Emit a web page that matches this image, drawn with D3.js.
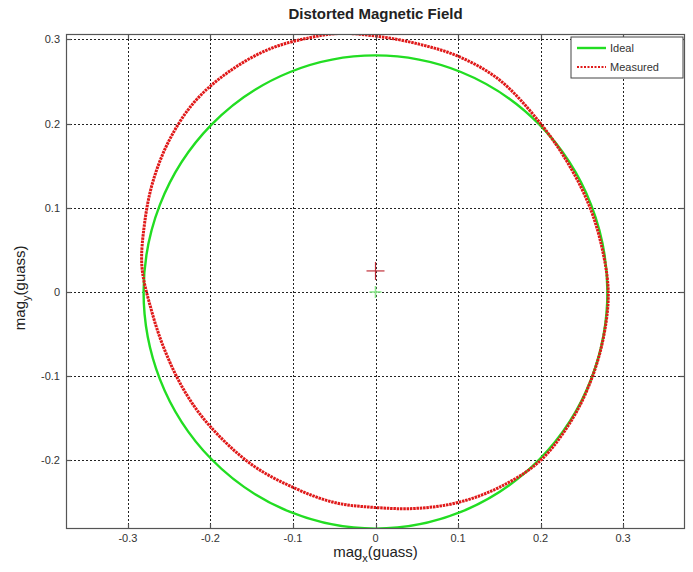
<!DOCTYPE html>
<html>
<head>
<meta charset="utf-8">
<script src="https://cdn.jsdelivr.net/npm/d3@7"></script>
<style>
  body { margin: 0; background: #fff; }
  svg { font-family: "Liberation Sans", Arial, sans-serif; }
</style>
</head>
<body>
<div id="chart"></div>
<script>
// ticks
const xTicks = [-0.3, -0.2, -0.1, 0, 0.1, 0.2, 0.3];
const yTicks = [-0.2, -0.1, 0, 0.1, 0.2, 0.3];

// ideal field: a circle around the origin
const idealCenter = [0, 0];
const idealRadius = 0.281;

// measured field (x, y in gauss)
const measuredX = [-0.043, 0.0, 0.05, 0.1, 0.15, 0.2, 0.235, 0.26, 0.275, 0.282,
  0.277, 0.263, 0.239, 0.2, 0.15, 0.1, 0.05, 0.0, -0.05, -0.1, -0.15, -0.2,
  -0.23, -0.255, -0.272, -0.283, -0.28, -0.27, -0.25, -0.22, -0.18, -0.13, -0.08];
const measuredY = [0.307, 0.304, 0.295, 0.280, 0.252, 0.200, 0.15, 0.10, 0.05, 0.0,
  -0.05, -0.10, -0.15, -0.2, -0.232, -0.25, -0.257, -0.256, -0.25, -0.232, -0.205, -0.16,
  -0.12, -0.07, -0.02, 0.03, 0.08, 0.13, 0.18, 0.225, 0.26, 0.288, 0.302];
const measuredCenter = [0, 0.025];

const width = 693, height = 572;
const margin = {top: 34, right: 8, bottom: 43, left: 66};
const green = "#22dd22", red = "#e01a1a";

const svg = d3.select("#chart").append("svg")
  .attr("width", width)
  .attr("height", height);

let x = d3.scaleLinear()
  .domain([-0.375, 0.375])
  .range([margin.left, width - margin.right]);

let y = d3.scaleLinear()
  .domain([-0.2815, 0.3064])
  .range([height - margin.bottom, margin.top]);

// clip to the axes box
svg.append("clipPath").attr("id", "plotClip")
  .append("rect")
  .attr("x", x.range()[0]).attr("y", y.range()[1])
  .attr("width", x.range()[1] - x.range()[0])
  .attr("height", y.range()[0] - y.range()[1]);

// grid
let grid = svg.append("g")
  .attr("stroke", "#222")
  .attr("stroke-width", 1)
  .attr("stroke-dasharray", "2,2");

grid.selectAll("line.vx")
  .data(xTicks)
  .enter().append("line")
    .attr("x1", d => Math.round(x(d)) + 0.5)
    .attr("x2", d => Math.round(x(d)) + 0.5)
    .attr("y1", y.range()[0])
    .attr("y2", y.range()[1]);

grid.selectAll("line.hy")
  .data(yTicks)
  .enter().append("line")
    .attr("y1", d => Math.round(y(d)) + 0.5)
    .attr("y2", d => Math.round(y(d)) + 0.5)
    .attr("x1", x.range()[0])
    .attr("x2", x.range()[1]);

let plot = svg.append("g").attr("clip-path", "url(#plotClip)");

// ideal circle
plot.append("ellipse")
  .attr("cx", x(idealCenter[0]))
  .attr("cy", y(idealCenter[1]))
  .attr("rx", x(idealRadius) - x(0))
  .attr("ry", y(0) - y(idealRadius))
  .attr("fill", "none")
  .attr("stroke", green)
  .attr("stroke-width", 2.4);

// measured curve
let measured = measuredX.map((d, i) => [d, measuredY[i]]);
let line = d3.line()
  .x(d => x(d[0]))
  .y(d => y(d[1]))
  .curve(d3.curveCatmullRomClosed);

plot.append("path")
  .datum(measured)
  .attr("d", line)
  .attr("fill", "none")
  .attr("stroke", red)
  .attr("stroke-width", 3)
  .attr("stroke-dasharray", "2.5,0.8");

// centre markers
function cross(c, size, color, w) {
  let g = svg.append("g").attr("stroke", color).attr("stroke-width", w);
  g.append("line")
    .attr("x1", x(c[0]) - size).attr("x2", x(c[0]) + size)
    .attr("y1", y(c[1])).attr("y2", y(c[1]));
  g.append("line")
    .attr("x1", x(c[0])).attr("x2", x(c[0]))
    .attr("y1", y(c[1]) - size).attr("y2", y(c[1]) + size);
}
cross(idealCenter, 6, "#8ee88e", 1.6);
cross(measuredCenter, 9, "#c0303a", 1.2);

// axes box with ticks on all sides
svg.append("rect")
  .attr("x", x.range()[0] + 0.5).attr("y", y.range()[1] + 0.5)
  .attr("width", x.range()[1] - x.range()[0] - 1)
  .attr("height", y.range()[0] - y.range()[1] - 1)
  .attr("fill", "none")
  .attr("stroke", "#555")
  .attr("stroke-width", 1.2);

let tickLen = 5;
let ticks = svg.append("g").attr("stroke", "#555").attr("stroke-width", 1.2);
xTicks.forEach(d => {
  let px = Math.round(x(d)) + 0.5;
  ticks.append("line").attr("x1", px).attr("x2", px)
    .attr("y1", y.range()[0]).attr("y2", y.range()[0] - tickLen);
  ticks.append("line").attr("x1", px).attr("x2", px)
    .attr("y1", y.range()[1]).attr("y2", y.range()[1] + tickLen);
});
yTicks.forEach(d => {
  let py = Math.round(y(d)) + 0.5;
  ticks.append("line").attr("y1", py).attr("y2", py)
    .attr("x1", x.range()[0]).attr("x2", x.range()[0] + tickLen);
  ticks.append("line").attr("y1", py).attr("y2", py)
    .attr("x1", x.range()[1]).attr("x2", x.range()[1] - tickLen);
});

// tick labels
svg.selectAll("text.xt")
  .data(xTicks)
  .enter().append("text")
    .attr("x", d => x(d))
    .attr("y", y.range()[0] + 13)
    .attr("text-anchor", "middle")
    .style("font-size", "11px")
    .style("fill", "#333")
    .text(d => String(d));

svg.selectAll("text.yt")
  .data(yTicks)
  .enter().append("text")
    .attr("x", x.range()[0] - 6)
    .attr("y", d => y(d) + 4)
    .attr("text-anchor", "end")
    .style("font-size", "11px")
    .style("fill", "#333")
    .text(d => String(d));

// title and axis labels
svg.append("text")
  .attr("x", (x.range()[0] + x.range()[1]) / 2)
  .attr("y", 19)
  .attr("text-anchor", "middle")
  .style("font-size", "15px")
  .attr("font-weight", "bold")
  .style("fill", "#222")
  .text("Distorted Magnetic Field");

let xl = svg.append("text")
  .attr("x", (x.range()[0] + x.range()[1]) / 2)
  .attr("y", 557)
  .attr("text-anchor", "middle")
  .style("font-size", "15px")
  .style("fill", "#222");
xl.append("tspan").text("mag");
xl.append("tspan").attr("dy", 5).style("font-size", "11px").text("x");
xl.append("tspan").attr("dy", -5).text("(guass)");

let yl = svg.append("text")
  .attr("transform", `translate(25,${y(0.005)}) rotate(-90)`)
  .attr("text-anchor", "middle")
  .style("font-size", "15px")
  .style("fill", "#222");
yl.append("tspan").text("mag");
yl.append("tspan").attr("dy", 5).style("font-size", "11px").text("y");
yl.append("tspan").attr("dy", -5).text("(guass)");

// legend
let lg = svg.append("g").attr("transform", "translate(571,37)");
lg.append("rect")
  .attr("width", 112).attr("height", 41)
  .attr("fill", "#fff")
  .attr("stroke", "#444")
  .attr("stroke-width", 1);
let legendItems = [
  {label: "Ideal", color: green, dash: null, w: 2.4},
  {label: "Measured", color: red, dash: "2,1.5", w: 2}
];
legendItems.forEach((d, i) => {
  let yy = 11 + i * 19;
  lg.append("line")
    .attr("x1", 6).attr("x2", 35)
    .attr("y1", yy).attr("y2", yy)
    .attr("stroke", d.color)
    .attr("stroke-width", d.w)
    .attr("stroke-dasharray", d.dash);
  lg.append("text")
    .attr("x", 39).attr("y", yy + 4)
    .style("font-size", "11px")
    .style("fill", "#333")
    .text(d.label);
});
</script>
</body>
</html>
